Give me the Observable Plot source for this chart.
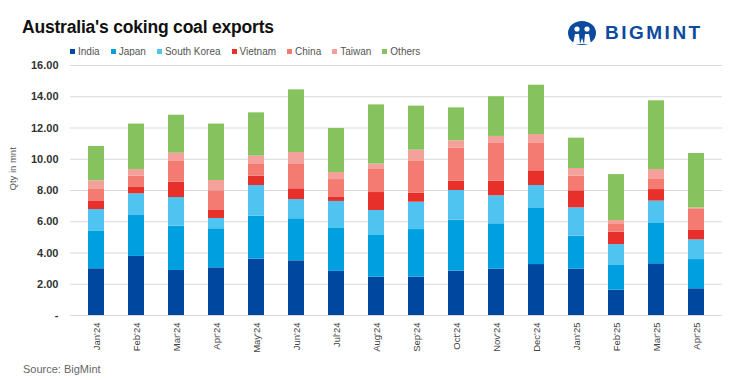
<!DOCTYPE html>
<html>
<head>
<meta charset="utf-8">
<script src="https://cdn.jsdelivr.net/npm/d3@7"></script>
<script src="https://cdn.jsdelivr.net/npm/@observablehq/plot@0.6"></script>
<style>
  html, body { margin: 0; padding: 0; background: #fff; }
  #wrap { position: relative; width: 730px; height: 380px; overflow: hidden; font-family: "Liberation Sans", Arial, sans-serif; }
  #title { position: absolute; left: 22px; top: 17px; font-size: 17.5px; font-weight: bold; color: #111; letter-spacing: -0.2px; }
  #logo { position: absolute; left: 567px; top: 20px; display: flex; align-items: center; gap: 8px; color: #0b4a9e; font-weight: bold; font-size: 19px; letter-spacing: 2.5px; }
  #legend { position: absolute; left: 70px; top: 46px; display: flex; gap: 11px; font-size: 10px; color: #555; }
  #legend .item { display: flex; align-items: center; gap: 3px; }
  #legend .sw { width: 5px; height: 5px; display: inline-block; }
  #chart { position: absolute; left: 0; top: 56px; }
  #source { position: absolute; left: 23px; top: 363px; font-size: 11px; color: #666; }
</style>
</head>
<body>
<div id="wrap">
  <div id="title">Australia's coking coal exports</div>
  <div id="logo">
    <svg width="30" height="26" viewBox="0 0 30 26">
      <ellipse cx="15" cy="13" rx="14" ry="12" fill="#0b4a9e"/>
      <circle cx="10" cy="9" r="2.6" fill="#fff"/>
      <circle cx="20" cy="9" r="2.6" fill="#fff"/>
      <path d="M6 24 L8 14 L12 14 L13 24 Z" fill="#fff"/>
      <path d="M17 24 L18 14 L22 14 L24 24 Z" fill="#fff"/>
      <path d="M13 24 L15 18 L17 24 Z" fill="#fff"/>
    </svg>
    <span>BIGMINT</span>
  </div>
  <div id="legend"></div>
  <div id="chart"></div>
  <div id="source">Source: BigMint</div>
</div>
<script>
const months = ["Jan'24","Feb'24","Mar'24","Apr'24","May'24","Jun'24","Jul'24","Aug'24","Sep'24","Oct'24","Nov'24","Dec'24","Jan'25","Feb'25","Mar'25","Apr'25"];
const countries = ["India","Japan","South Korea","Vietnam","China","Taiwan","Others"];
const colors = ["#0047a0","#00a0e0","#50c4f0","#e8302a","#f47b72","#f4a19b","#86c35e"];

const india      = [2.99,3.78,2.88,3.05,3.61,3.50,2.82,2.45,2.45,2.84,2.97,3.26,2.97,1.62,3.31,1.71];
const japan      = [2.39,2.66,2.84,2.50,2.75,2.69,2.79,2.67,3.05,3.26,2.90,3.63,2.11,1.58,2.62,1.87];
const southKorea = [1.40,1.35,1.83,0.66,1.96,1.23,1.69,1.60,1.75,1.90,1.79,1.43,1.81,1.34,1.39,1.26];
const vietnam    = [0.52,0.40,0.98,0.51,0.60,0.69,0.29,1.15,0.58,0.60,0.94,0.94,1.09,0.79,0.74,0.60];
const china      = [0.81,0.73,1.33,1.26,0.79,1.60,1.11,1.52,2.03,2.11,2.41,1.79,0.94,0.54,0.69,1.39];
const taiwan     = [0.51,0.42,0.53,0.66,0.49,0.72,0.45,0.30,0.72,0.47,0.45,0.53,0.49,0.21,0.59,0.05];
const others     = [2.20,2.91,2.43,3.61,2.77,4.01,2.82,3.79,2.82,2.11,2.54,3.16,1.94,2.94,4.40,3.49];
const yTicks = [0,2,4,6,8,10,12,14,16];

const series = [india, japan, southKorea, vietnam, china, taiwan, others];
const data = [];
months.forEach((m, i) => {
  countries.forEach((c, j) => data.push({month: m, country: c, value: series[j][i]}));
});

const legend = document.getElementById("legend");
countries.forEach((c, j) => {
  const it = document.createElement("div");
  it.className = "item";
  it.innerHTML = `<span class="sw" style="background:${colors[j]}"></span><span>${c}</span>`;
  legend.appendChild(it);
});

const plot = Plot.plot({
  width: 730,
  height: 304,
  marginTop: 9,
  marginBottom: 45,
  marginLeft: 70,
  marginRight: 8,
  style: {fontFamily: "'Liberation Sans', Arial, sans-serif", background: "#fff"},
  x: {domain: months, paddingInner: 0.6, paddingOuter: 0.3, label: null},
  y: {domain: [0, 16], label: null},
  color: {domain: countries, range: colors},
  marks: [
    Plot.gridY(yTicks, {stroke: "#d9d9d9", strokeOpacity: 1, strokeWidth: 1}),
    Plot.barY(data, {x: "month", y: "value", fill: "country", order: countries}),
    Plot.axisY(yTicks, {tickSize: 0, tickPadding: 12, label: null, fontSize: 11, fontWeight: "bold", fill: "#333",
      tickFormat: d => d === 0 ? "-" : d.toFixed(2)}),
    Plot.axisX({tickSize: 0, tickPadding: 7, tickRotate: -90, label: null, fontSize: 9.5, fill: "#444"}),
    Plot.text(["Qty in mnt"], {frameAnchor: "left", dx: -58, rotate: -90, fontSize: 9.5, fill: "#555"})
  ]
});
document.getElementById("chart").appendChild(plot);
</script>
</body>
</html>
